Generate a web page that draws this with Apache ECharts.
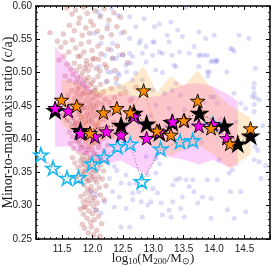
<!DOCTYPE html>
<html><head><meta charset="utf-8">
<script src="https://cdn.jsdelivr.net/npm/echarts@6/dist/echarts.min.js"></script>
<style>html,body{margin:0;padding:0;background:#fff}#c{width:274px;height:266px}</style>
</head><body><div id="c"></div>
<script>
// ---- data ----
const xTicks = [11.5, 12.0, 12.5, 13.0, 13.5, 14.0, 14.5];
const yTicks = [0.25, 0.30, 0.35, 0.40, 0.45, 0.50, 0.55, 0.60];

const redPts = [
[11.58,0.597],[11.66,0.588],[11.72,0.594],[11.79,0.582],[11.85,0.598],[11.91,0.589],[11.97,0.577],[12.04,0.593],[12.12,0.584],[12.19,0.596],[12.27,0.579],[12.35,0.590],[12.46,0.583],[11.62,0.571],[11.70,0.563],[11.77,0.574],[11.83,0.556],[11.89,0.567],[11.95,0.559],[12.01,0.571],[12.08,0.562],[12.15,0.553],[12.24,0.566],[12.31,0.557],[12.40,0.569],[12.52,0.561],[11.52,0.558],[11.30,0.560],[11.42,0.547],
[11.48,0.538],[11.55,0.545],[11.61,0.531],[11.67,0.549],[11.72,0.537],[11.76,0.524],[11.81,0.543],[11.86,0.531],[11.90,0.518],[11.94,0.546],[11.99,0.533],[12.03,0.521],[12.09,0.540],[12.14,0.528],[12.20,0.512],[12.26,0.535],[12.33,0.522],[12.41,0.540],[12.50,0.527],[12.58,0.515],[11.58,0.512],[11.64,0.505],[11.70,0.514],[11.74,0.503],[11.79,0.509],[11.84,0.501],[11.88,0.507],[11.93,0.503],[11.97,0.511],[12.06,0.506],[12.12,0.502],[12.23,0.508],[12.37,0.503],[11.45,0.519],[11.53,0.525],
[11.55,0.495],[11.62,0.488],[11.68,0.497],[11.72,0.485],[11.75,0.492],[11.78,0.478],[11.81,0.495],[11.84,0.483],[11.87,0.490],[11.90,0.476],[11.93,0.493],[11.96,0.481],[11.99,0.470],[12.02,0.489],[12.05,0.477],[12.09,0.494],[12.13,0.482],[12.18,0.471],[12.24,0.487],[12.31,0.476],[12.39,0.491],[12.46,0.468],[11.60,0.466],[11.66,0.473],[11.70,0.461],[11.74,0.468],[11.77,0.455],[11.80,0.463],[11.83,0.452],[11.86,0.470],[11.89,0.458],[11.92,0.466],[11.95,0.453],[11.98,0.460],[12.01,0.451],[12.04,0.463],[12.08,0.455],[12.12,0.466],[12.16,0.452],[12.21,0.460],[12.28,0.455],[12.36,0.462],[12.55,0.470],[12.62,0.458],[12.72,0.478],
[11.52,0.436],[11.58,0.428],[11.64,0.441],[11.68,0.432],[11.71,0.446],[11.74,0.424],[11.77,0.437],[11.80,0.428],[11.82,0.445],[11.85,0.421],[11.88,0.434],[11.90,0.447],[11.93,0.425],[11.96,0.438],[11.99,0.429],[12.02,0.443],[12.05,0.421],[12.08,0.435],[12.11,0.426],[12.15,0.440],[12.19,0.430],[12.24,0.418],[12.29,0.437],[12.35,0.425],[11.62,0.411],[11.67,0.404],[11.72,0.415],[11.76,0.406],[11.79,0.417],[11.83,0.402],[11.87,0.412],[11.91,0.405],[11.94,0.416],[11.97,0.401],[12.00,0.411],[12.04,0.404],[12.07,0.414],[12.12,0.407],[12.17,0.401],[12.22,0.412],[12.32,0.405],[12.43,0.415],
[11.64,0.394],[11.69,0.386],[11.73,0.397],[11.77,0.381],[11.80,0.392],[11.83,0.375],[11.86,0.388],[11.89,0.396],[11.91,0.379],[11.94,0.389],[11.97,0.372],[12.00,0.384],[12.03,0.395],[12.06,0.377],[12.10,0.388],[12.14,0.370],[12.19,0.382],[12.25,0.391],[11.71,0.364],[11.76,0.357],[11.80,0.368],[11.84,0.352],[11.87,0.362],[11.90,0.355],[11.93,0.366],[11.96,0.351],[11.99,0.360],[12.02,0.353],[12.05,0.364],[12.09,0.356],[12.13,0.361],[12.18,0.352],[12.24,0.366],[11.67,0.372],
[11.74,0.344],[11.79,0.336],[11.83,0.346],[11.86,0.331],[11.89,0.341],[11.92,0.325],[11.95,0.338],[11.98,0.329],[12.01,0.344],[12.04,0.322],[12.07,0.335],[12.11,0.327],[12.16,0.340],[12.22,0.330],[11.81,0.314],[11.85,0.306],[11.88,0.318],[11.91,0.309],[11.94,0.303],[11.97,0.315],[12.00,0.307],[12.03,0.312],[12.08,0.304],[12.13,0.316],[12.19,0.309],
[11.80,0.295],[11.85,0.287],[11.88,0.298],[11.91,0.281],[11.94,0.292],[11.97,0.275],[12.00,0.288],[12.03,0.279],[12.06,0.293],[12.10,0.284],[12.15,0.273],[11.87,0.266],[11.93,0.259],[11.98,0.268],[12.02,0.256],[12.07,0.263],[12.12,0.254],[11.83,0.272],
[11.76,0.452],[11.79,0.441],[11.82,0.433],[11.85,0.447],[11.88,0.426],[11.91,0.439],[11.94,0.431],[11.97,0.446],[12.00,0.424],[12.03,0.436],[12.06,0.449],[12.09,0.419],[11.78,0.398],[11.81,0.387],[11.84,0.409],[11.87,0.379],[11.90,0.401],[11.93,0.384],[11.96,0.409],[11.99,0.393],[12.02,0.378],[12.05,0.399],[12.08,0.369],[12.11,0.394],[11.82,0.361],[11.85,0.369],[11.88,0.349],[11.91,0.371],[11.94,0.358],[11.97,0.345],[12.00,0.369],[12.03,0.339],[12.06,0.351],[12.10,0.343],[11.75,0.475],[11.79,0.486],[11.83,0.468],[11.87,0.479],[11.91,0.487],[11.95,0.471],[11.99,0.484],[12.03,0.473],[12.07,0.468],[11.72,0.425],[11.69,0.452],[11.66,0.419],[12.14,0.415],[12.18,0.446],[11.86,0.298],[11.92,0.337],[11.96,0.322],[12.02,0.299],[11.90,0.512],[11.80,0.525],[12.00,0.520],[12.10,0.520]
];

const bluePts = [
[13.02,0.569],[13.10,0.573],[13.29,0.576],[13.40,0.564],[13.23,0.556],[13.02,0.546],[13.26,0.546],[13.48,0.554],[13.75,0.561],[13.86,0.551],[14.00,0.556],[14.27,0.536],[14.41,0.556],[14.57,0.551],[14.68,0.506],[12.82,0.529],[12.99,0.526],[13.10,0.531],[13.34,0.511],[13.43,0.531],[13.59,0.529],[13.78,0.526],[13.95,0.516],[14.03,0.516],[13.89,0.501],[14.66,0.484],[14.63,0.464],[14.74,0.459],[14.52,0.446],[14.36,0.426],
[13.67,0.539],[13.75,0.526],[13.84,0.526],[13.89,0.526],[13.97,0.518],[14.03,0.518],[14.05,0.518],[14.21,0.501],[13.92,0.501],[13.90,0.495],[14.30,0.535],[14.33,0.532],[14.33,0.469],[14.65,0.477],[14.66,0.469],[14.68,0.462],[14.66,0.452],[14.66,0.441],[14.44,0.454],[13.75,0.509],[13.84,0.456],[14.05,0.454],[13.95,0.464],[14.00,0.463],
[12.31,0.534],[12.39,0.521],[12.44,0.526],[12.61,0.529],[12.66,0.524],[12.79,0.548],[12.88,0.539],[12.99,0.546],[13.15,0.529],[13.31,0.526],[13.37,0.509],[13.53,0.598],[12.88,0.516],[13.04,0.504],[13.15,0.500],[13.37,0.484],[12.31,0.501],[12.42,0.499],[12.55,0.511],[12.71,0.499],[12.82,0.489],[12.52,0.476],[12.66,0.461],[12.99,0.474],[13.18,0.469],[13.31,0.474],[13.45,0.466],[13.51,0.444],[13.26,0.446],[13.04,0.451],[12.39,0.484],
[12.88,0.374],[13.04,0.371],[12.80,0.306],[12.91,0.301],[13.04,0.349],[13.07,0.319],[13.13,0.304],[13.15,0.286],[13.26,0.293],[13.32,0.331],[13.37,0.339],[13.43,0.341],[13.54,0.339],[13.65,0.339],[13.59,0.329],[13.67,0.321],[13.48,0.313],[13.45,0.296],[13.73,0.304],[13.81,0.313],[13.89,0.339],[13.95,0.311],[14.05,0.339],[14.25,0.349],[14.27,0.321],[14.44,0.321],[14.22,0.294],[14.52,0.291],[14.66,0.369],[14.74,0.366],[14.68,0.389],[14.72,0.383],[14.66,0.399],[14.77,0.341],[13.32,0.306],[13.29,0.283],[13.51,0.283],[14.33,0.281],[13.95,0.281],[12.99,0.326],[12.96,0.306],[14.08,0.369],[14.30,0.354],[13.10,0.363],[12.91,0.346],
[12.36,0.359],[12.40,0.353],[12.55,0.346],[12.28,0.341],[12.47,0.334],[12.61,0.333],[12.71,0.334],[12.33,0.321],[12.44,0.313],[12.66,0.319],[12.76,0.321],[12.20,0.306],[12.36,0.298],[12.55,0.296],[12.61,0.268],[12.47,0.268],[12.66,0.309],[12.82,0.283],[12.14,0.289],[11.98,0.321],[12.06,0.316],[12.06,0.293],
[12.09,0.591],[12.14,0.586],[12.31,0.597],[12.42,0.586],[12.61,0.584],[12.71,0.569],[12.85,0.581],[12.25,0.571],[12.47,0.559],[12.61,0.551],[12.77,0.544],[12.33,0.544],[12.20,0.526],[12.33,0.521],[12.50,0.526],[12.63,0.514],[12.11,0.509],[12.25,0.501],[12.44,0.496],[12.56,0.501],[12.66,0.489],[12.22,0.486],[12.44,0.479],[12.14,0.544],[12.03,0.559],
[13.60,0.420],[13.80,0.395],[14.10,0.430],[14.50,0.405],[14.80,0.420],[14.85,0.360],[13.20,0.420],[12.95,0.435]
];

// magenta band
const magX  = [11.385,11.60,11.80,12.04,12.23,12.47,12.68,12.89,13.10,13.32,13.51,13.75,13.98,14.21,14.39];
const magHi = [0.539,0.516,0.495,0.468,0.466,0.468,0.465,0.462,0.465,0.475,0.482,0.484,0.479,0.468,0.457];
const magLo = [0.389,0.389,0.380,0.370,0.362,0.368,0.357,0.346,0.376,0.372,0.369,0.362,0.369,0.359,0.359];
// orange band
const orX  = [11.49,11.74,11.96,12.18,12.40,12.62,12.84,13.06,13.29,13.50,13.73,13.95,14.26,14.60];
const orHi = [0.490,0.485,0.470,0.476,0.480,0.488,0.510,0.470,0.495,0.479,0.503,0.478,0.450,0.432];
const orLo = [0.420,0.410,0.385,0.400,0.400,0.400,0.395,0.385,0.375,0.385,0.390,0.380,0.356,0.377];

// star series
const magStarX = [11.385,11.60,11.80,12.04,12.23,12.47,12.68,12.89,13.10,13.32,13.51,13.75,13.98,14.21];
const magStarY = [0.4465,0.4425,0.409,0.404,0.4115,0.4065,0.434,0.4015,0.411,0.4265,0.428,0.420,0.4225,0.4015];
const blkStarX = [11.385,11.80,12.47,12.68,12.89,13.10,13.31,13.76,14.17,14.39,14.60];
const blkStarY = [0.443,0.413,0.421,0.439,0.423,0.410,0.425,0.439,0.420,0.393,0.405];
const orStarX = [11.49,11.74,11.96,12.18,12.40,12.62,12.84,13.06,13.29,13.50,13.73,13.95,14.26,14.60];
const orStarY = [0.459,0.450,0.409,0.440,0.4465,0.440,0.473,0.4125,0.4065,0.428,0.4575,0.4165,0.393,0.416];
const cyStarX = [11.15,11.35,11.58,11.77,11.99,12.19,12.41,12.62,12.81,13.12,13.44,13.65,13.98];
const cyStarY = [0.3765,0.3565,0.3415,0.3425,0.363,0.373,0.389,0.393,0.3365,0.3855,0.3965,0.398,0.422];

// ---- chart ----
const STAR = 'path://M0,-1L0.2245,-0.309L0.951,-0.309L0.363,0.118L0.588,0.809L0,0.382L-0.588,0.809L-0.363,0.118L-0.951,-0.309L-0.2245,-0.309Z';
const zip = (a,b)=>a.map((v,i)=>[v,b[i]]);
function band(xs, hi, lo, fill, z){
  return {type:'custom', z:z, silent:true, clip:true,
    data:[[xs[0], lo[0]]], encode:{x:0,y:1},
    renderItem:function(params, api){
      const pts=[];
      for(let i=0;i<xs.length;i++) pts.push(api.coord([xs[i],hi[i]]));
      for(let i=xs.length-1;i>=0;i--) pts.push(api.coord([xs[i],lo[i]]));
      return {type:'polygon', shape:{points:pts}, style:{fill:fill, stroke:null, lineWidth:0}};
    }};
}
function stars(xs, ys, fill, edge, bw, size, lineColor, z){
  return {type:'line', z:z, data:zip(xs,ys), symbol:STAR, symbolSize:size,
    showSymbol:true, showAllSymbol:true, silent:true,
    itemStyle:{color:fill, borderColor:edge, borderWidth:bw, opacity:1},
    lineStyle:{color:lineColor, width:1, type:[1.2,2]}};
}
const axisCommon = {
  axisLine:{show:true, onZero:false, lineStyle:{color:'#000', width:1.5}},
  axisTick:{show:true, inside:true, length:4, lineStyle:{color:'#000', width:1}},
  minorTick:{show:true, splitNumber:5, length:2, lineStyle:{color:'#000', width:0.8}},
  splitLine:{show:false}
};
const lblStyle = {color:'#222', fontSize:10, fontFamily:'Liberation Sans, Arial, sans-serif'};
const xBase = {type:'value', min:11.07, max:14.92, splitNumber:8};
const yBase = {type:'value', min:0.25, max:0.60, interval:0.05};

const chart = echarts.init(document.getElementById('c'), null, {renderer:'canvas'});
chart.setOption({
  animation:false,
  backgroundColor:'#fff',
  grid:{left:36, right:4, top:6, bottom:27, containLabel:false, outerBoundsMode:'none'},
  xAxis:[
    Object.assign({}, xBase, axisCommon, {position:'bottom',
      axisLabel:Object.assign({}, lblStyle, {margin:5, showMinLabel:false, showMaxLabel:false,
        formatter:v=>{ const t=xTicks.find(k=>Math.abs(k-v)<1e-6); return t===undefined?'':t.toFixed(1);} }),
      name:'{n|log}{s|10}{n|(M}{s|200}{n|/M}{s|⊙}{n|)}', nameLocation:'middle', nameGap:12, nameMoveOverlap:false,
      nameTextStyle:{rich:{
        n:{fontFamily:'Liberation Serif, serif', fontSize:13, color:'#222'},
        s:{fontFamily:'Liberation Serif, serif', fontSize:9, color:'#222', verticalAlign:'bottom', padding:[6,0,0,0]}}}
    }),
    Object.assign({}, xBase, axisCommon, {position:'top', axisLabel:{show:false}})
  ],
  yAxis:[
    Object.assign({}, yBase, axisCommon, {position:'left',
      axisLabel:Object.assign({}, lblStyle, {margin:4, formatter:v=>{const t=yTicks.find(k=>Math.abs(k-v)<1e-6); return t===undefined?'':t.toFixed(2);}}),
      name:'Minor-to-major axis ratio (c/a)', nameLocation:'middle', nameGap:21, nameRotate:90, nameMoveOverlap:false,
      nameTextStyle:{fontFamily:'Liberation Serif, serif', fontSize:14, color:'#222'}
    }),
    Object.assign({}, yBase, axisCommon, {position:'right', axisLabel:{show:false}})
  ],
  series:[
    {type:'scatter', z:1, data:redPts, symbol:'circle', symbolSize:5.5, silent:true,
      itemStyle:{color:'rgba(170,40,40,0.30)'}},
    {type:'scatter', z:1, data:bluePts, symbol:'circle', symbolSize:5, silent:true,
      itemStyle:{color:'rgba(100,100,225,0.28)'}},
    band(magX, magHi, magLo, 'rgba(238,60,238,0.24)', 2),
    band(orX, orHi, orLo, 'rgba(255,165,40,0.24)', 2),
    stars(cyStarX, cyStarY, 'rgba(255,255,255,0)', '#1ab8f0', 1.6, [14.5,13.8], '#888', 3),
    stars(blkStarX, blkStarY, '#000', '#000', 1, [17,16.2], '#333', 4),
    stars(magStarX, magStarY, '#ff00ff', '#000', 0.9, [14.5,13.8], '#dd22dd', 5),
    stars(orStarX, orStarY, '#ff8c00', '#000', 0.9, [14.5,13.8], '#ff9010', 6)
  ]
});
</script></body></html>
